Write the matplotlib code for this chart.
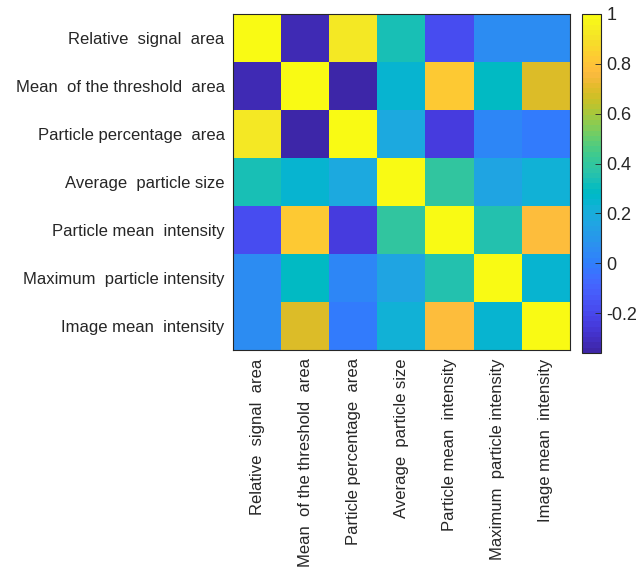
import numpy as np
import matplotlib
matplotlib.use("Agg")
import matplotlib.pyplot as plt
from matplotlib.colors import ListedColormap

plt.rcParams["font.family"] = ["Liberation Sans", "DejaVu Sans"]

# 64-step parula colour table
parula = ListedColormap([
    (0.2422, 0.1504, 0.6603), (0.2504, 0.1650, 0.7076), (0.2578, 0.1818, 0.7511), (0.2647, 0.1978, 0.7952),
    (0.2706, 0.2147, 0.8364), (0.2751, 0.2342, 0.8710), (0.2783, 0.2559, 0.8991), (0.2803, 0.2782, 0.9221),
    (0.2813, 0.3006, 0.9414), (0.2810, 0.3228, 0.9579), (0.2795, 0.3447, 0.9717), (0.2760, 0.3667, 0.9829),
    (0.2699, 0.3892, 0.9906), (0.2602, 0.4123, 0.9952), (0.2440, 0.4358, 0.9988), (0.2206, 0.4603, 0.9973),
    (0.1963, 0.4847, 0.9892), (0.1834, 0.5074, 0.9798), (0.1786, 0.5289, 0.9682), (0.1764, 0.5499, 0.9520),
    (0.1687, 0.5703, 0.9359), (0.1540, 0.5902, 0.9218), (0.1460, 0.6091, 0.9079), (0.1380, 0.6276, 0.8973),
    (0.1248, 0.6459, 0.8883), (0.1113, 0.6635, 0.8763), (0.0952, 0.6798, 0.8598), (0.0689, 0.6948, 0.8394),
    (0.0297, 0.7082, 0.8163), (0.0036, 0.7203, 0.7917), (0.0067, 0.7312, 0.7660), (0.0433, 0.7411, 0.7394),
    (0.0964, 0.7500, 0.7120), (0.1408, 0.7584, 0.6842), (0.1717, 0.7670, 0.6554), (0.1938, 0.7758, 0.6251),
    (0.2161, 0.7843, 0.5923), (0.2470, 0.7918, 0.5567), (0.2906, 0.7973, 0.5188), (0.3406, 0.8008, 0.4789),
    (0.3909, 0.8029, 0.4354), (0.4456, 0.8024, 0.3909), (0.5044, 0.7993, 0.3480), (0.5616, 0.7942, 0.3045),
    (0.6174, 0.7876, 0.2612), (0.6720, 0.7793, 0.2227), (0.7242, 0.7698, 0.1910), (0.7738, 0.7598, 0.1646),
    (0.8203, 0.7498, 0.1535), (0.8634, 0.7406, 0.1596), (0.9035, 0.7330, 0.1774), (0.9393, 0.7288, 0.2100),
    (0.9728, 0.7298, 0.2394), (0.9956, 0.7434, 0.2371), (0.9970, 0.7659, 0.2199), (0.9952, 0.7893, 0.2028),
    (0.9892, 0.8136, 0.1885), (0.9786, 0.8386, 0.1766), (0.9676, 0.8639, 0.1643), (0.9610, 0.8890, 0.1537),
    (0.9597, 0.9135, 0.1423), (0.9628, 0.9373, 0.1265), (0.9691, 0.9606, 0.1064), (0.9769, 0.9839, 0.0805),
], name="parula")

features = [
    "Relative  signal  area",
    "Mean  of the threshold  area",
    "Particle percentage  area",
    "Average  particle size",
    "Particle mean  intensity",
    "Maximum  particle intensity",
    "Image mean  intensity",
]

# upper triangle of the correlation matrix, row by row
r_rel = [-0.32, 0.93, 0.34, -0.18, 0.05, 0.05]
r_mean = [-0.36, 0.245, 0.81, 0.29, 0.69]
r_pct = [0.18, -0.25, 0.03, 0.00]
r_size = [0.39, 0.17, 0.22]
r_pint = [0.36, 0.77]
r_maxi = [0.24]

upper = [r_rel, r_mean, r_pct, r_size, r_pint, r_maxi]
n = len(features)
corr = np.eye(n)
for i, row in enumerate(upper):
    for k, v in enumerate(row):
        j = i + 1 + k
        corr[i, j] = v
        corr[j, i] = v

fig = plt.figure(figsize=(6.43, 5.72), dpi=100)
ax = fig.add_axes([233 / 643, 1 - 350 / 572, 337 / 643, 336 / 572])
im = ax.imshow(corr, cmap=parula, vmin=corr.min(), vmax=1.0,
               aspect="auto", interpolation="nearest")

ax.set_xticks(range(n))
ax.set_yticks(range(n))
ax.set_xticklabels(features, rotation=90, fontsize=12, color="#262626")
ax.set_yticklabels(features, fontsize=12, color="#262626")
ax.tick_params(length=0, pad=6)
for s in ax.spines.values():
    s.set_color("#262626")
    s.set_linewidth(0.8)

cax = fig.add_axes([582 / 643, 1 - 353 / 572, 19 / 643, 339 / 572])
cb = fig.colorbar(im, cax=cax)
cb.set_ticks([-0.2, 0, 0.2, 0.4, 0.6, 0.8, 1])
cb.set_ticklabels(["-0.2", "0", "0.2", "0.4", "0.6", "0.8", "1"])
cax.tick_params(labelsize=13, direction="in", length=4, width=0.6,
                colors="#262626", pad=4)
cb.outline.set_edgecolor("#262626")
cb.outline.set_linewidth(0.8)

fig.savefig("out.png", dpi=100)
